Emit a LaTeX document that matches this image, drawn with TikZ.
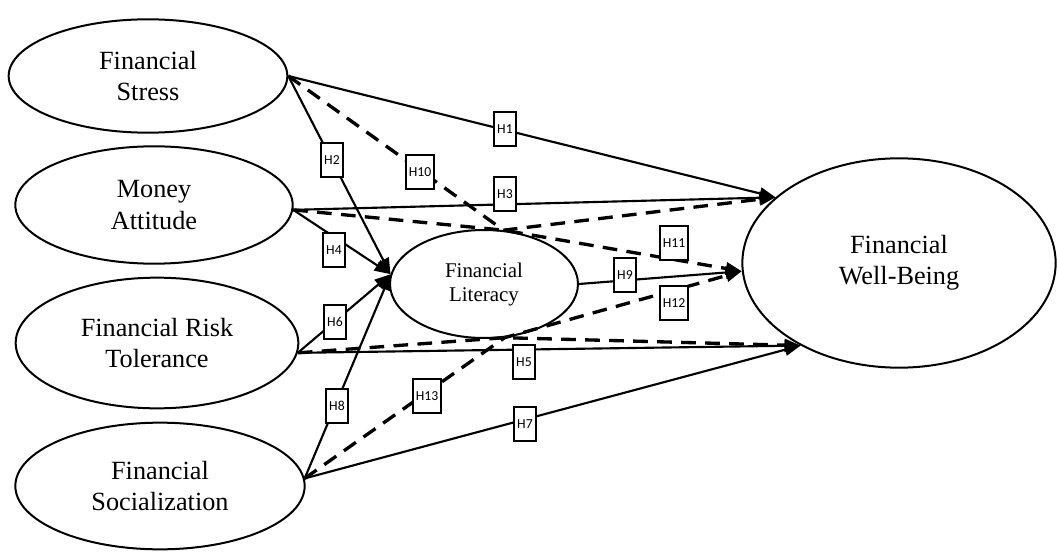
\documentclass[tikz,border=0pt]{standalone}
\usepackage{fontspec}
\setmainfont{Liberation Serif}
\newfontfamily\hypfont{Carlito}
\usetikzlibrary{arrows.meta,shapes.geometric}

\begin{document}
\begin{tikzpicture}[x=0.75pt,y=-0.75pt,
  factor/.style={draw,ellipse,line width=1.5pt,align=center,inner sep=0pt,font=\fontsize{19.7}{23.5}\selectfont},
  hyp/.style={draw,fill=white,line width=1.6pt,inner xsep=2pt,minimum width=17pt,minimum height=26pt,font=\hypfont\fontsize{10.3}{12}\selectfont},
  direct/.style={line width=1.6pt,-{Triangle[length=12pt,width=9pt]}},
  mediated/.style={line width=2.5pt,dash pattern=on 11pt off 7pt,-{Triangle[length=12pt,width=9pt]}}]
\useasboundingbox (0,0) rectangle (1057,556);

% constructs
\node[factor,minimum width=209pt,minimum height=85pt] (stress) at (148,76) {Financial\\Stress};
\node[factor,minimum width=208pt,minimum height=88pt] (money) at (154,205) {Money\\Attitude};
\node[factor,minimum width=212pt,minimum height=98pt] (risk) at (157,343) {Financial Risk\\Tolerance};
\node[factor,minimum width=217pt,minimum height=95pt] (social) at (160,486) {Financial\\Socialization};
\node[factor,minimum width=141pt,minimum height=81pt,font=\fontsize{15.7}{18}\selectfont] (lit) at (484,284) {Financial\\Literacy};
\node[factor,minimum width=235pt,minimum height=157pt] (wb) at (899,263) {Financial\\Well-Being};

% direct paths
\draw[direct] (stress.east) -- (wb.152);
\draw[direct] (stress.east) -- (lit.174);
\draw[direct] (money.-2) -- (wb.152);
\draw[direct] (money.-2) -- (lit.174);
\draw[direct] (risk.-4) -- (wb.220);
\draw[direct] (risk.-4) -- (lit.174);
\draw[direct] (social.3) -- (wb.220);
\draw[direct] (social.3) -- (lit.174);
\draw[direct] (lit.east) -- (wb.183);

% mediated paths
\draw[mediated] (stress.east) -- (lit.70) -- (wb.152);
\draw[mediated] (money.-2) -- (lit.70) -- (wb.183);
\draw[mediated] (risk.-4) -- (lit.-69) -- (wb.220);
\draw[mediated] (social.3) -- (lit.-69) -- (wb.183);

% hypotheses
\node[hyp] (h1) at (505,129) {H1};
\node[hyp] (h2) at (332,160) {H2};
\node[hyp] (h3) at (505,194) {H3};
\node[hyp] (h4) at (334,250) {H4};
\node[hyp] (h5) at (524,362) {H5};
\node[hyp] (h6) at (335,322) {H6};
\node[hyp] (h7) at (525,424) {H7};
\node[hyp] (h8) at (337,406) {H8};
\node[hyp] (h9) at (625,275) {H9};
\node[hyp] (h10) at (420,172) {H10};
\node[hyp] (h11) at (674,243) {H11};
\node[hyp] (h12) at (674,303) {H12};
\node[hyp] (h13) at (427,396) {H13};
\end{tikzpicture}
\end{document}
